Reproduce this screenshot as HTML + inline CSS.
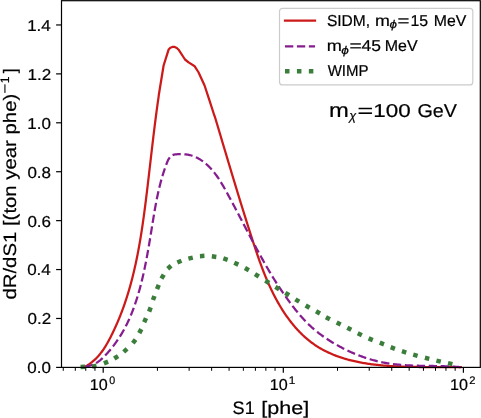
<!DOCTYPE html>
<html><head><meta charset="utf-8"><style>
html,body{margin:0;padding:0;background:#fff;}
svg{display:block;will-change:transform;}
text{font-family:"Liberation Sans",sans-serif;fill:#000;stroke:#000;stroke-width:0.2px;text-rendering:geometricPrecision;}
</style></head><body>
<svg width="481" height="418" viewBox="0 0 481 418">
<rect width="481" height="418" fill="#fff"/>
<g fill="none" stroke-linejoin="round">
<path d="M85.08,366.55 L86.16,365.97 L87.22,365.37 L88.25,364.74 L89.25,364.09 L90.23,363.41 L91.19,362.71 L92.13,361.98 L93.04,361.23 L93.93,360.47 L94.80,359.67 L95.65,358.86 L96.48,358.03 L97.29,357.18 L98.09,356.32 L98.86,355.43 L99.62,354.53 L100.36,353.61 L101.08,352.68 L101.79,351.74 L102.49,350.78 L103.16,349.81 L103.83,348.83 L104.48,347.83 L105.12,346.83 L105.75,345.81 L106.36,344.79 L106.97,343.76 L107.56,342.72 L108.14,341.68 L108.72,340.63 L109.28,339.57 L109.84,338.51 L110.39,337.45 L110.93,336.39 L111.47,335.32 L112.00,334.25 L112.52,333.18 L113.04,332.11 L113.55,331.04 L114.06,329.96 L114.56,328.89 L115.06,327.81 L115.55,326.74 L116.03,325.66 L116.51,324.58 L116.99,323.50 L117.46,322.41 L117.92,321.33 L118.38,320.25 L118.83,319.16 L119.28,318.07 L119.72,316.98 L120.16,315.89 L120.59,314.80 L121.02,313.71 L121.44,312.61 L121.86,311.51 L122.27,310.42 L122.68,309.32 L123.08,308.22 L123.48,307.11 L123.87,306.01 L124.26,304.90 L124.64,303.80 L125.02,302.69 L125.40,301.58 L125.77,300.47 L126.14,299.35 L126.50,298.24 L126.86,297.12 L127.21,296.00 L127.56,294.88 L127.91,293.76 L128.25,292.64 L128.59,291.51 L128.92,290.39 L129.25,289.26 L129.58,288.13 L129.90,287.00 L130.22,285.87 L130.53,284.74 L130.84,283.60 L131.15,282.47 L131.45,281.33 L131.75,280.19 L132.05,279.06 L132.34,277.91 L132.63,276.77 L132.91,275.63 L133.19,274.49 L133.47,273.34 L133.75,272.19 L134.02,271.05 L134.29,269.90 L134.55,268.75 L134.81,267.60 L135.07,266.44 L135.33,265.29 L135.58,264.14 L135.83,262.98 L136.08,261.83 L136.32,260.67 L136.56,259.51 L136.80,258.35 L137.04,257.19 L137.27,256.03 L137.50,254.87 L137.72,253.71 L137.95,252.54 L138.17,251.38 L138.39,250.21 L138.61,249.05 L138.82,247.88 L139.03,246.71 L139.24,245.55 L139.45,244.38 L139.65,243.21 L139.85,242.04 L140.05,240.87 L140.25,239.70 L140.45,238.52 L140.64,237.35 L140.83,236.18 L141.02,235.00 L141.21,233.83 L141.39,232.65 L141.58,231.48 L141.76,230.30 L141.94,229.13 L142.12,227.95 L142.29,226.77 L142.47,225.60 L142.64,224.42 L142.81,223.24 L142.98,222.06 L143.15,220.88 L143.31,219.70 L143.48,218.52 L143.64,217.34 L143.81,216.16 L143.97,214.98 L144.13,213.80 L144.28,212.62 L144.44,211.44 L144.60,210.26 L144.75,209.08 L144.91,207.90 L145.06,206.72 L145.21,205.53 L145.36,204.35 L145.51,203.17 L145.66,201.99 L145.81,200.81 L145.96,199.63 L146.10,198.44 L146.25,197.26 L146.39,196.08 L146.54,194.90 L146.68,193.72 L146.83,192.54 L146.97,191.35 L147.11,190.17 L147.25,188.99 L147.40,187.81 L147.54,186.63 L147.68,185.45 L147.82,184.27 L147.96,183.09 L148.10,181.91 L148.23,180.73 L148.37,179.55 L148.51,178.37 L148.65,177.19 L148.79,176.01 L148.92,174.83 L149.06,173.65 L149.20,172.47 L149.33,171.29 L149.47,170.11 L149.61,168.93 L149.74,167.75 L149.88,166.58 L150.02,165.40 L150.15,164.22 L150.29,163.04 L150.42,161.86 L150.56,160.69 L150.70,159.51 L150.83,158.33 L150.97,157.15 L151.10,155.98 L151.24,154.80 L151.38,153.62 L151.51,152.44 L151.65,151.27 L151.79,150.09 L151.93,148.92 L152.06,147.74 L152.20,146.56 L152.34,145.39 L152.48,144.21 L152.62,143.04 L152.76,141.86 L152.89,140.69 L153.03,139.51 L153.18,138.34 L153.32,137.16 L153.46,135.99 L153.60,134.82 L153.74,133.64 L153.88,132.47 L154.03,131.30 L154.17,130.12 L154.32,128.95 L154.46,127.78 L154.61,126.61 L154.75,125.43 L154.90,124.26 L155.05,123.09 L155.20,121.92 L155.35,120.75 L155.50,119.58 L155.65,118.41 L155.80,117.24 L155.95,116.07 L156.10,114.90 L156.26,113.73 L156.41,112.56 L156.57,111.39 L156.73,110.22 L156.88,109.05 L157.04,107.88 L157.20,106.71 L157.36,105.55 L157.53,104.38 L157.69,103.21 L157.85,102.04 L158.02,100.88 L158.19,99.71 L158.35,98.54 L158.52,97.38 L158.69,96.21 L158.73,95.50 L160.10,87.00 L161.98,75.50 L163.60,65.50 L168.60,49.60 L170.40,47.70 L172.30,46.95 L174.70,46.95 L176.80,48.00 L178.60,49.70 L185.00,59.50 L188.60,62.40 L194.70,66.30 L198.50,72.26 L204.57,85.50 L209.30,99.80 L214.33,115.50 L214.91,116.89 L215.25,118.02 L215.59,119.14 L215.93,120.26 L216.26,121.39 L216.60,122.52 L216.94,123.64 L217.27,124.77 L217.61,125.89 L217.94,127.02 L218.28,128.15 L218.62,129.28 L218.95,130.40 L219.29,131.53 L219.62,132.66 L219.96,133.79 L220.30,134.92 L220.63,136.05 L220.97,137.18 L221.31,138.31 L221.64,139.44 L221.98,140.57 L222.32,141.70 L222.65,142.83 L222.99,143.96 L223.33,145.10 L223.67,146.23 L224.00,147.36 L224.34,148.49 L224.68,149.63 L225.02,150.76 L225.36,151.89 L225.69,153.02 L226.03,154.16 L226.37,155.29 L226.71,156.43 L227.05,157.56 L227.39,158.69 L227.73,159.83 L228.07,160.96 L228.41,162.10 L228.75,163.23 L229.09,164.37 L229.43,165.50 L229.77,166.64 L230.11,167.77 L230.45,168.91 L230.79,170.04 L231.13,171.18 L231.47,172.32 L231.81,173.45 L232.16,174.59 L232.50,175.72 L232.84,176.86 L233.18,177.99 L233.53,179.13 L233.87,180.27 L234.21,181.40 L234.56,182.54 L234.90,183.67 L235.25,184.81 L235.59,185.94 L235.94,187.08 L236.28,188.22 L236.63,189.35 L236.97,190.49 L237.32,191.62 L237.66,192.76 L238.01,193.89 L238.36,195.03 L238.71,196.16 L239.05,197.30 L239.40,198.43 L239.75,199.57 L240.10,200.70 L240.45,201.84 L240.80,202.97 L241.15,204.11 L241.50,205.24 L241.85,206.37 L242.20,207.51 L242.55,208.64 L242.90,209.77 L243.26,210.91 L243.61,212.04 L243.96,213.17 L244.31,214.31 L244.67,215.44 L245.02,216.57 L245.38,217.70 L245.73,218.83 L246.09,219.96 L246.44,221.09 L246.80,222.23 L247.16,223.36 L247.51,224.49 L247.87,225.62 L248.23,226.74 L248.59,227.87 L248.95,229.00 L249.31,230.13 L249.67,231.26 L250.03,232.39 L250.39,233.51 L250.75,234.64 L251.11,235.77 L251.48,236.89 L251.84,238.02 L252.20,239.15 L252.57,240.27 L252.93,241.40 L253.30,242.52 L253.66,243.64 L254.03,244.77 L254.40,245.89 L254.77,247.01 L255.14,248.13 L255.51,249.25 L255.89,250.37 L256.26,251.49 L256.64,252.61 L257.02,253.73 L257.40,254.84 L257.79,255.96 L258.18,257.08 L258.56,258.19 L258.96,259.30 L259.35,260.41 L259.75,261.53 L260.15,262.64 L260.55,263.74 L260.96,264.85 L261.37,265.96 L261.78,267.06 L262.20,268.17 L262.62,269.27 L263.04,270.37 L263.47,271.47 L263.90,272.57 L264.33,273.67 L264.77,274.77 L265.22,275.86 L265.67,276.95 L266.12,278.04 L266.58,279.13 L267.04,280.22 L267.51,281.31 L267.98,282.39 L268.46,283.48 L268.94,284.56 L269.43,285.64 L269.92,286.72 L270.42,287.80 L270.93,288.87 L271.44,289.94 L271.96,291.01 L272.48,292.08 L273.01,293.15 L273.54,294.21 L274.09,295.28 L274.63,296.34 L275.19,297.39 L275.75,298.45 L276.32,299.50 L276.89,300.55 L277.47,301.59 L278.06,302.63 L278.65,303.67 L279.25,304.70 L279.86,305.73 L280.47,306.76 L281.10,307.78 L281.72,308.80 L282.36,309.81 L283.00,310.82 L283.65,311.82 L284.31,312.81 L284.97,313.80 L285.64,314.79 L286.32,315.77 L287.01,316.74 L287.70,317.71 L288.40,318.67 L289.11,319.63 L289.82,320.57 L290.55,321.52 L291.28,322.45 L292.02,323.38 L292.77,324.30 L293.52,325.21 L294.28,326.11 L295.05,327.01 L295.83,327.90 L296.62,328.78 L297.41,329.65 L298.21,330.51 L299.03,331.37 L299.84,332.21 L300.67,333.05 L301.51,333.88 L302.35,334.70 L303.20,335.50 L304.07,336.30 L304.94,337.09 L305.81,337.87 L306.70,338.64 L307.60,339.40 L308.50,340.14 L309.42,340.88 L310.34,341.60 L311.27,342.32 L312.21,343.02 L313.16,343.71 L314.12,344.39 L315.08,345.06 L316.06,345.72 L317.05,346.36 L318.04,346.99 L319.05,347.61 L320.06,348.22 L321.08,348.81 L322.11,349.39 L323.16,349.96 L324.20,350.51 L325.26,351.05 L326.33,351.58 L327.40,352.10 L328.48,352.61 L329.56,353.10 L330.66,353.59 L331.76,354.06 L332.86,354.52 L333.97,354.96 L335.08,355.40 L336.20,355.83 L337.32,356.24 L338.45,356.64 L339.58,357.04 L340.71,357.42 L341.85,357.79 L342.98,358.15 L344.12,358.50 L345.27,358.84 L346.41,359.17 L347.55,359.49 L348.70,359.80 L349.84,360.10 L350.99,360.39 L352.14,360.68 L353.28,360.95 L354.43,361.21 L355.58,361.47 L356.73,361.72 L357.88,361.96 L359.04,362.19 L360.19,362.41 L361.34,362.63 L362.50,362.83 L363.66,363.04 L364.82,363.23 L365.98,363.42 L367.14,363.60 L368.30,363.77 L369.47,363.94 L370.64,364.11 L371.80,364.26 L372.97,364.41 L374.15,364.56 L375.32,364.70 L376.50,364.84 L377.67,364.97 L378.85,365.09 L380.03,365.21 L381.21,365.32 L382.39,365.43 L383.57,365.54 L384.76,365.64 L385.94,365.74 L387.13,365.83 L388.32,365.92 L389.50,366.00 L390.69,366.08 L391.88,366.15 L393.07,366.23 L394.27,366.29 L395.46,366.36 L396.65,366.42 L397.84,366.47 L399.04,366.53 L400.23,366.58 L401.43,366.62 L402.62,366.67 L403.82,366.71 L405.02,366.75 L406.21,366.78 L407.41,366.81 L408.61,366.84 L409.80,366.87 L411.00,366.90 L412.20,366.92 L413.40,366.94 L414.59,366.96 L415.79,366.98 L416.99,366.99 L418.18,367.00 L419.38,367.02 L420.58,367.03 L421.77,367.03 L422.97,367.04 L424.16,367.05 L425.36,367.05 L426.55,367.06 L427.75,367.06 L428.94,367.06 L430.13,367.06 L431.32,367.06 L432.51,367.06 L433.70,367.06 L434.89,367.06 L436.08,367.06 L437.27,367.06 L438.45,367.06 L439.64,367.06 L440.82,367.06 L442.01,367.06 L443.19,367.06 L444.37,367.06 L445.55,367.06 L446.73,367.06 L447.90,367.06 L449.08,367.07 L450.25,367.07 L451.42,367.08 L452.59,367.08 L453.76,367.09 L454.93,367.10 L456.10,367.11 L457.26,367.13 L458.42,367.14 L459.58,367.16 L460.74,367.18 L461.90,367.20" stroke="#cc1a1a" stroke-width="2.25" stroke-linecap="butt"/>
<path d="M85.88,366.16 L86.88,366.08 L87.86,365.97 L88.81,365.81 L89.74,365.62 L90.64,365.39 L91.52,365.13 L92.38,364.83 L93.22,364.50 L94.05,364.14 L94.85,363.76 L95.63,363.34 L96.40,362.90 L97.15,362.43 L97.89,361.94 L98.61,361.42 L99.32,360.89 L100.02,360.34 L100.71,359.77 L101.38,359.18 L102.04,358.58 L102.70,357.96 L103.35,357.34 L103.99,356.70 L104.62,356.05 L105.25,355.40 L105.88,354.74 L106.50,354.07 L107.11,353.40 L107.72,352.72 L108.33,352.04 L108.93,351.35 L109.53,350.65 L110.12,349.95 L110.71,349.25 L111.29,348.54 L111.86,347.82 L112.43,347.11 L113.00,346.38 L113.56,345.66 L114.12,344.93 L114.66,344.19 L115.21,343.46 L115.74,342.71 L116.28,341.97 L116.80,341.22 L117.32,340.47 L117.84,339.72 L118.34,338.96 L118.84,338.20 L119.34,337.44 L119.83,336.68 L120.31,335.91 L120.79,335.15 L121.26,334.38 L121.72,333.61 L122.18,332.84 L122.63,332.06 L123.07,331.29 L123.51,330.51 L123.94,329.73 L124.37,328.95 L124.79,328.17 L125.20,327.38 L125.61,326.59 L126.01,325.81 L126.41,325.02 L126.80,324.22 L127.19,323.43 L127.57,322.63 L127.95,321.84 L128.32,321.04 L128.69,320.24 L129.05,319.43 L129.41,318.63 L129.77,317.82 L130.12,317.01 L130.46,316.20 L130.80,315.39 L131.14,314.58 L131.47,313.76 L131.80,312.94 L132.12,312.12 L132.44,311.30 L132.76,310.48 L133.07,309.65 L133.38,308.83 L133.69,308.00 L133.99,307.17 L134.29,306.33 L134.58,305.50 L134.87,304.66 L135.16,303.82 L135.45,302.98 L135.73,302.14 L136.01,301.30 L136.29,300.46 L136.56,299.61 L136.83,298.76 L137.10,297.91 L137.36,297.06 L137.62,296.21 L137.88,295.35 L138.14,294.50 L138.39,293.64 L138.64,292.78 L138.89,291.92 L139.13,291.06 L139.37,290.19 L139.61,289.33 L139.85,288.46 L140.08,287.60 L140.32,286.73 L140.54,285.86 L140.77,284.99 L141.00,284.12 L141.22,283.24 L141.44,282.37 L141.65,281.49 L141.87,280.62 L142.08,279.74 L142.29,278.86 L142.50,277.98 L142.70,277.10 L142.91,276.22 L143.11,275.34 L143.31,274.45 L143.51,273.57 L143.70,272.69 L143.90,271.80 L144.09,270.91 L144.28,270.03 L144.47,269.14 L144.66,268.25 L144.84,267.36 L145.02,266.47 L145.20,265.58 L145.38,264.69 L145.56,263.79 L145.74,262.90 L145.91,262.01 L146.09,261.11 L146.26,260.22 L146.43,259.32 L146.60,258.43 L146.77,257.53 L146.94,256.64 L147.10,255.74 L147.27,254.84 L147.43,253.94 L147.59,253.05 L147.75,252.15 L147.91,251.25 L148.07,250.35 L148.23,249.45 L148.39,248.55 L148.54,247.66 L148.70,246.76 L148.85,245.86 L149.01,244.96 L149.16,244.06 L149.31,243.16 L149.46,242.26 L149.61,241.36 L149.76,240.46 L149.91,239.56 L150.06,238.66 L150.21,237.76 L150.35,236.86 L150.50,235.97 L150.65,235.07 L150.80,234.17 L150.94,233.27 L151.09,232.37 L151.23,231.48 L151.38,230.58 L151.52,229.68 L151.67,228.79 L151.81,227.89 L151.96,226.99 L152.10,226.10 L152.25,225.20 L152.39,224.31 L152.53,223.42 L152.68,222.52 L152.82,221.63 L152.97,220.74 L153.11,219.85 L153.26,218.96 L153.41,218.07 L153.55,217.18 L153.70,216.29 L153.85,215.40 L154.00,214.51 L154.15,213.62 L154.30,212.73 L154.45,211.85 L154.60,210.96 L154.76,210.07 L154.91,209.19 L155.07,208.30 L155.23,207.42 L155.38,206.53 L155.55,205.65 L155.71,204.77 L155.87,203.88 L156.04,203.00 L156.21,202.12 L156.38,201.24 L156.55,200.35 L156.72,199.47 L156.90,198.59 L157.08,197.71 L157.26,196.83 L157.44,195.95 L157.63,195.07 L157.82,194.19 L158.01,193.31 L158.20,192.43 L158.40,191.55 L158.60,190.67 L158.80,189.79 L159.01,188.92 L159.22,188.04 L159.43,187.16 L159.64,186.28 L159.86,185.40 L160.09,184.53 L160.31,183.65 L160.54,182.77 L160.77,181.90 L161.01,181.02 L161.25,180.14 L161.50,179.27 L161.75,178.39 L162.00,177.51 L162.26,176.64 L162.52,175.76 L162.78,174.88 L163.06,174.01 L163.33,173.13 L163.61,172.26 L163.89,171.38 L164.18,170.50 L164.48,169.63 L164.78,168.75 L165.08,167.88 L165.39,167.00 L165.70,166.12 L166.02,165.25 L166.34,164.37 L166.68,163.50 L167.01,162.62 L167.36,161.76 L167.73,160.92 L168.12,160.10 L168.53,159.32 L168.98,158.57 L169.45,157.86 L169.97,157.20 L170.52,156.60 L171.12,156.07 L171.77,155.60 L172.47,155.20 L173.23,154.89 L174.04,154.65 L174.90,154.48 L175.79,154.36 L176.71,154.29 L177.65,154.24 L178.60,154.23 L179.56,154.23 L180.52,154.23 L181.47,154.23 L182.41,154.23 L183.34,154.24 L184.27,154.27 L185.18,154.33 L186.09,154.41 L186.99,154.53 L187.88,154.67 L188.77,154.83 L189.65,155.03 L190.51,155.24 L191.38,155.48 L192.23,155.75 L193.07,156.04 L193.91,156.35 L194.73,156.69 L195.55,157.04 L196.36,157.42 L197.16,157.81 L197.96,158.23 L198.74,158.66 L199.51,159.11 L200.28,159.58 L201.03,160.07 L201.78,160.57 L202.52,161.09 L203.25,161.63 L203.97,162.18 L204.67,162.74 L205.37,163.31 L206.06,163.90 L206.74,164.50 L207.41,165.11 L208.07,165.73 L208.72,166.37 L209.36,167.01 L209.99,167.66 L210.61,168.31 L211.22,168.98 L211.82,169.65 L212.41,170.33 L212.99,171.02 L213.57,171.71 L214.13,172.41 L214.68,173.12 L215.23,173.83 L215.77,174.55 L216.30,175.28 L216.83,176.01 L217.34,176.74 L217.85,177.48 L218.36,178.23 L218.86,178.98 L219.35,179.73 L219.83,180.49 L220.32,181.25 L220.79,182.02 L221.26,182.79 L221.73,183.56 L222.19,184.34 L222.65,185.12 L223.11,185.90 L223.56,186.68 L224.01,187.46 L224.45,188.25 L224.90,189.04 L225.34,189.83 L225.78,190.62 L226.22,191.41 L226.65,192.20 L227.09,193.00 L227.52,193.79 L227.96,194.58 L228.39,195.38 L228.82,196.17 L229.25,196.97 L229.68,197.76 L230.11,198.56 L230.54,199.35 L230.97,200.15 L231.40,200.94 L231.82,201.74 L232.25,202.53 L232.68,203.33 L233.10,204.13 L233.53,204.93 L233.95,205.72 L234.37,206.52 L234.80,207.32 L235.22,208.12 L235.64,208.91 L236.06,209.71 L236.48,210.51 L236.91,211.31 L237.33,212.11 L237.75,212.91 L238.17,213.71 L238.59,214.51 L239.01,215.31 L239.43,216.11 L239.85,216.91 L240.26,217.71 L240.68,218.51 L241.10,219.31 L241.52,220.11 L241.94,220.91 L242.36,221.71 L242.78,222.51 L243.20,223.32 L243.62,224.12 L244.03,224.92 L244.45,225.72 L244.87,226.52 L245.29,227.32 L245.71,228.13 L246.13,228.93 L246.55,229.73 L246.97,230.53 L247.39,231.33 L247.81,232.14 L248.24,232.94 L248.66,233.74 L249.08,234.54 L249.50,235.35 L249.93,236.15 L250.35,236.95 L250.77,237.76 L251.20,238.56 L251.62,239.36 L252.05,240.16 L252.47,240.97 L252.90,241.77 L253.33,242.57 L253.76,243.38 L254.19,244.18 L254.62,244.98 L255.05,245.78 L255.48,246.59 L255.91,247.39 L256.34,248.19 L256.78,249.00 L257.21,249.80 L257.65,250.60 L258.08,251.40 L258.52,252.21 L258.96,253.01 L259.40,253.81 L259.83,254.61 L260.27,255.41 L260.72,256.21 L261.16,257.00 L261.60,257.80 L262.04,258.60 L262.48,259.39 L262.93,260.18 L263.37,260.98 L263.82,261.77 L264.26,262.55 L264.71,263.34 L265.15,264.13 L265.60,264.91 L266.05,265.69 L266.50,266.47 L266.94,267.24 L267.39,268.02 L267.84,268.79 L268.29,269.55 L268.74,270.32 L269.19,271.08 L269.63,271.84 L270.08,272.60 L270.53,273.35 L270.98,274.10 L271.43,274.85 L271.88,275.59 L272.33,276.33 L272.78,277.07 L273.23,277.80 L273.68,278.53 L274.13,279.25 L274.58,279.98 L275.03,280.69 L275.48,281.40 L275.92,282.11 L276.37,282.81 L276.82,283.51 L277.27,284.21 L277.72,284.90 L278.17,285.59 L278.62,286.27 L279.07,286.95 L279.52,287.63 L279.97,288.31 L280.42,288.98 L280.88,289.66 L281.34,290.33 L281.79,291.00 L282.25,291.67 L282.72,292.35 L283.18,293.02 L283.65,293.69 L284.12,294.36 L284.59,295.04 L285.06,295.71 L285.54,296.39 L286.02,297.07 L286.51,297.75 L287.00,298.43 L287.49,299.12 L287.98,299.80 L288.48,300.49 L288.98,301.18 L289.49,301.87 L290.00,302.56 L290.51,303.26 L291.03,303.95 L291.55,304.65 L292.08,305.34 L292.60,306.04 L293.14,306.73 L293.67,307.43 L294.21,308.12 L294.76,308.81 L295.30,309.51 L295.86,310.20 L296.41,310.89 L296.97,311.58 L297.54,312.27 L298.11,312.95 L298.68,313.64 L299.25,314.32 L299.84,315.00 L300.42,315.68 L301.01,316.35 L301.60,317.03 L302.20,317.70 L302.81,318.36 L303.41,319.03 L304.02,319.69 L304.64,320.34 L305.26,320.99 L305.89,321.64 L306.52,322.29 L307.15,322.93 L307.79,323.56 L308.43,324.19 L309.08,324.82 L309.74,325.44 L310.39,326.05 L311.06,326.66 L311.72,327.27 L312.40,327.87 L313.07,328.46 L313.75,329.05 L314.44,329.63 L315.13,330.21 L315.82,330.79 L316.52,331.36 L317.23,331.92 L317.93,332.48 L318.64,333.03 L319.36,333.58 L320.08,334.13 L320.80,334.67 L321.53,335.20 L322.26,335.73 L322.99,336.26 L323.73,336.78 L324.47,337.29 L325.21,337.81 L325.96,338.31 L326.71,338.82 L327.47,339.31 L328.22,339.81 L328.98,340.30 L329.75,340.78 L330.52,341.26 L331.29,341.74 L332.06,342.21 L332.83,342.68 L333.61,343.14 L334.39,343.60 L335.18,344.05 L335.96,344.50 L336.75,344.95 L337.54,345.39 L338.34,345.83 L339.13,346.27 L339.93,346.70 L340.73,347.12 L341.54,347.54 L342.34,347.96 L343.15,348.38 L343.96,348.79 L344.77,349.19 L345.58,349.59 L346.40,349.99 L347.22,350.38 L348.04,350.77 L348.86,351.16 L349.68,351.54 L350.51,351.91 L351.33,352.29 L352.16,352.65 L353.00,353.01 L353.83,353.37 L354.66,353.72 L355.50,354.07 L356.34,354.42 L357.18,354.75 L358.02,355.09 L358.87,355.42 L359.71,355.74 L360.56,356.06 L361.41,356.37 L362.26,356.68 L363.12,356.99 L363.97,357.29 L364.83,357.58 L365.69,357.87 L366.55,358.15 L367.41,358.43 L368.27,358.70 L369.14,358.97 L370.00,359.23 L370.87,359.49 L371.74,359.74 L372.61,359.99 L373.48,360.23 L374.36,360.46 L375.23,360.69 L376.11,360.91 L376.99,361.13 L377.86,361.34 L378.75,361.55 L379.63,361.75 L380.51,361.94 L381.40,362.13 L382.28,362.31 L383.17,362.49 L384.06,362.66 L384.95,362.82 L385.84,362.98 L386.73,363.13 L387.63,363.28 L388.52,363.42 L389.42,363.55 L390.31,363.68 L391.21,363.81 L392.11,363.93 L393.01,364.04 L393.91,364.15 L394.81,364.26 L395.72,364.36 L396.62,364.46 L397.53,364.55 L398.43,364.63 L399.34,364.72 L400.24,364.80 L401.15,364.87 L402.06,364.95 L402.97,365.01 L403.88,365.08 L404.79,365.14 L405.70,365.20 L406.61,365.25 L407.52,365.30 L408.43,365.35 L409.34,365.40 L410.26,365.44 L411.17,365.48 L412.08,365.52 L413.00,365.56 L413.91,365.59 L414.83,365.62 L415.74,365.65 L416.65,365.68 L417.57,365.71 L418.48,365.73 L419.40,365.75 L420.31,365.77 L421.23,365.79 L422.15,365.81 L423.06,365.83 L423.98,365.85 L424.89,365.86 L425.80,365.88 L426.72,365.89 L427.63,365.91 L428.55,365.92 L429.46,365.94 L430.38,365.95 L431.29,365.96 L432.20,365.98 L433.11,365.99 L434.03,366.01 L434.94,366.02 L435.85,366.04 L436.76,366.05 L437.67,366.07 L438.58,366.09 L439.49,366.11 L440.40,366.13 L441.31,366.15 L442.21,366.17 L443.12,366.20 L444.03,366.22 L444.93,366.25 L445.84,366.28 L446.74,366.31 L447.64,366.34 L448.54,366.38 L449.44,366.42 L450.34,366.46 L451.24,366.50 L452.14,366.55 L453.04,366.60 L453.93,366.65 L454.83,366.71 L455.72,366.77 L456.61,366.83 L457.50,366.89 L458.39,366.96 L459.28,367.03 L460.17,367.11 L461.06,367.19 L461.94,367.28" stroke="#861d8f" stroke-width="2.25" stroke-dasharray="8.3 3.63" stroke-dashoffset="1.2" stroke-linecap="butt"/>
</g>
<g fill="#3b7d3b"><rect x="80.55" y="364.55" width="4.50" height="4.50" transform="rotate(-3.0 82.80 366.80)"/><rect x="92.05" y="363.95" width="4.50" height="4.50" transform="rotate(-10.5 94.30 366.20)"/><rect x="103.75" y="360.25" width="4.50" height="4.50" transform="rotate(-22.1 106.00 362.50)"/><rect x="113.95" y="355.05" width="4.50" height="4.50" transform="rotate(-32.0 116.20 357.30)"/><rect x="123.15" y="348.15" width="4.50" height="4.50" transform="rotate(-41.6 125.40 350.40)"/><rect x="131.95" y="339.05" width="4.50" height="4.50" transform="rotate(-52.3 134.20 341.30)"/><rect x="138.05" y="328.85" width="4.50" height="4.50" transform="rotate(-62.7 140.30 331.10)"/><rect x="142.85" y="317.95" width="4.50" height="4.50" transform="rotate(-66.0 145.10 320.20)"/><rect x="147.65" y="307.25" width="4.50" height="4.50" transform="rotate(-68.8 149.90 309.50)"/><rect x="151.45" y="295.75" width="4.50" height="4.50" transform="rotate(-70.4 153.70 298.00)"/><rect x="155.65" y="284.75" width="4.50" height="4.50" transform="rotate(-67.4 157.90 287.00)"/><rect x="160.35" y="274.35" width="4.50" height="4.50" transform="rotate(-59.7 162.60 276.60)"/><rect x="167.15" y="265.05" width="4.50" height="4.50" transform="rotate(-41.8 169.40 267.30)"/><rect x="177.15" y="259.35" width="4.50" height="4.50" transform="rotate(-23.5 179.40 261.60)"/><rect x="188.35" y="255.85" width="4.50" height="4.50" transform="rotate(-13.8 190.60 258.10)"/><rect x="199.95" y="253.75" width="4.50" height="4.50" transform="rotate(-3.7 202.20 256.00)"/><rect x="211.85" y="254.35" width="4.50" height="4.50" transform="rotate(7.6 214.10 256.60)"/><rect x="223.25" y="256.85" width="4.50" height="4.50" transform="rotate(17.7 225.50 259.10)"/><rect x="234.05" y="261.45" width="4.50" height="4.50" transform="rotate(25.0 236.30 263.70)"/><rect x="244.65" y="266.85" width="4.50" height="4.50" transform="rotate(29.4 246.90 269.10)"/><rect x="254.65" y="273.05" width="4.50" height="4.50" transform="rotate(32.0 256.90 275.30)"/><rect x="264.95" y="279.55" width="4.50" height="4.50" transform="rotate(32.1 267.20 281.80)"/><rect x="275.05" y="285.85" width="4.50" height="4.50" transform="rotate(31.6 277.30 288.10)"/><rect x="284.95" y="291.85" width="4.50" height="4.50" transform="rotate(31.8 287.20 294.10)"/><rect x="295.05" y="298.25" width="4.50" height="4.50" transform="rotate(31.5 297.30 300.50)"/><rect x="305.35" y="304.35" width="4.50" height="4.50" transform="rotate(29.9 307.60 306.60)"/><rect x="315.75" y="310.15" width="4.50" height="4.50" transform="rotate(29.7 318.00 312.40)"/><rect x="325.65" y="315.95" width="4.50" height="4.50" transform="rotate(28.0 327.90 318.20)"/><rect x="336.45" y="321.15" width="4.50" height="4.50" transform="rotate(26.4 338.70 323.40)"/><rect x="347.05" y="326.55" width="4.50" height="4.50" transform="rotate(27.3 349.30 328.80)"/><rect x="357.55" y="332.05" width="4.50" height="4.50" transform="rotate(26.1 359.80 334.30)"/><rect x="368.45" y="337.05" width="4.50" height="4.50" transform="rotate(22.6 370.70 339.30)"/><rect x="379.65" y="341.25" width="4.50" height="4.50" transform="rotate(21.5 381.90 343.50)"/><rect x="390.55" y="345.75" width="4.50" height="4.50" transform="rotate(20.7 392.80 348.00)"/><rect x="401.85" y="349.65" width="4.50" height="4.50" transform="rotate(17.9 404.10 351.90)"/><rect x="413.15" y="353.05" width="4.50" height="4.50" transform="rotate(15.5 415.40 355.30)"/><rect x="424.85" y="356.05" width="4.50" height="4.50" transform="rotate(14.0 427.10 358.30)"/><rect x="436.35" y="358.85" width="4.50" height="4.50" transform="rotate(12.9 438.60 361.10)"/><rect x="447.95" y="361.35" width="4.50" height="4.50" transform="rotate(12.2 450.20 363.60)"/></g>
<g stroke="#000" stroke-width="1.2"><line x1="56.10" y1="367.40" x2="61.50" y2="367.40"/><line x1="56.10" y1="318.48" x2="61.50" y2="318.48"/><line x1="56.10" y1="269.56" x2="61.50" y2="269.56"/><line x1="56.10" y1="220.64" x2="61.50" y2="220.64"/><line x1="56.10" y1="171.72" x2="61.50" y2="171.72"/><line x1="56.10" y1="122.80" x2="61.50" y2="122.80"/><line x1="56.10" y1="73.88" x2="61.50" y2="73.88"/><line x1="56.10" y1="24.96" x2="61.50" y2="24.96"/><line x1="103.20" y1="367.40" x2="103.20" y2="372.80"/><line x1="283.30" y1="367.40" x2="283.30" y2="372.80"/><line x1="463.40" y1="367.40" x2="463.40" y2="372.80"/></g>
<g stroke="#000" stroke-width="1.0"><line x1="63.25" y1="367.40" x2="63.25" y2="370.80"/><line x1="75.30" y1="367.40" x2="75.30" y2="370.80"/><line x1="85.75" y1="367.40" x2="85.75" y2="370.80"/><line x1="94.96" y1="367.40" x2="94.96" y2="370.80"/><line x1="157.42" y1="367.40" x2="157.42" y2="370.80"/><line x1="189.13" y1="367.40" x2="189.13" y2="370.80"/><line x1="211.63" y1="367.40" x2="211.63" y2="370.80"/><line x1="229.08" y1="367.40" x2="229.08" y2="370.80"/><line x1="243.35" y1="367.40" x2="243.35" y2="370.80"/><line x1="255.40" y1="367.40" x2="255.40" y2="370.80"/><line x1="265.85" y1="367.40" x2="265.85" y2="370.80"/><line x1="275.06" y1="367.40" x2="275.06" y2="370.80"/><line x1="337.52" y1="367.40" x2="337.52" y2="370.80"/><line x1="369.23" y1="367.40" x2="369.23" y2="370.80"/><line x1="391.73" y1="367.40" x2="391.73" y2="370.80"/><line x1="409.18" y1="367.40" x2="409.18" y2="370.80"/><line x1="423.45" y1="367.40" x2="423.45" y2="370.80"/><line x1="435.50" y1="367.40" x2="435.50" y2="370.80"/><line x1="445.95" y1="367.40" x2="445.95" y2="370.80"/><line x1="455.16" y1="367.40" x2="455.16" y2="370.80"/></g>
<rect x="61.5" y="0.7" width="418.8" height="366.7" fill="none" stroke="#000" stroke-width="1.2"/>
<rect x="279.5" y="8.3" width="193.3" height="76.6" rx="3" ry="3" fill="#fff" fill-opacity="0.8" stroke="#cccccc" stroke-width="1.2"/>
<line x1="285" y1="20.7" x2="315" y2="20.7" stroke="#cc1a1a" stroke-width="2.25" stroke-linecap="square"/>
<line x1="285" y1="46.4" x2="315" y2="46.4" stroke="#861d8f" stroke-width="2.25" stroke-dasharray="8.3 3.63"/>
<line x1="285" y1="71.2" x2="315" y2="71.2" stroke="#3b7d3b" stroke-width="4.5" stroke-dasharray="4.5 7.425"/>
<g><text transform="translate(27.34 373.33) scale(1.0757 1)" font-size="15.80">0.0</text><text transform="translate(27.53 324.41) scale(1.0757 1)" font-size="15.80">0.2</text><text transform="translate(27.17 275.49) scale(1.0757 1)" font-size="15.80">0.4</text><text transform="translate(27.42 226.57) scale(1.0757 1)" font-size="15.80">0.6</text><text transform="translate(27.41 177.65) scale(1.0757 1)" font-size="15.80">0.8</text><text transform="translate(27.34 128.73) scale(1.0757 1)" font-size="15.80">1.0</text><text transform="translate(27.53 79.81) scale(1.0757 1)" font-size="15.80">1.2</text><text transform="translate(27.17 30.89) scale(1.0757 1)" font-size="15.80">1.4</text><text transform="translate(89.77 389.80) scale(1.0220 1)" font-size="15.80">10</text><text transform="translate(109.18 384.20) scale(0.9612 1)" font-size="11.10">0</text><text transform="translate(269.87 389.80) scale(1.0220 1)" font-size="15.80">10</text><text transform="translate(288.80 384.20) scale(1.0657 1)" font-size="11.10">1</text><text transform="translate(449.97 389.80) scale(1.0220 1)" font-size="15.80">10</text><text transform="translate(469.24 384.20) scale(1.0085 1)" font-size="11.10">2</text><text transform="translate(232.58 413.90) scale(1.0039 1)" font-size="18.00">S1</text><text transform="translate(261.36 413.90) scale(1.1984 1)" font-size="18.00">[phe]</text><text transform="translate(15.90 299.55) rotate(-90) scale(1.1302 1)" font-size="18.00">dR/dS1 [(ton year phe)</text><text transform="translate(8.80 93.52) rotate(-90) scale(1.3555 1)" font-size="12.30">−</text><text transform="translate(8.80 83.14) rotate(-90) scale(0.9994 1)" font-size="12.30">1</text><text transform="translate(15.90 73.24) rotate(-90) scale(1.0064 1)" font-size="18.00">]</text><text transform="translate(326.94 25.80) scale(0.9832 1)" font-size="15.80">SIDM,</text><text transform="translate(375.02 25.80) scale(1.1291 1)" font-size="15.80">m</text><text transform="translate(389.57 28.40) scale(1.2093 1)" font-size="11.10" font-style="italic">ϕ</text><text transform="translate(397.61 25.80) scale(1.2897 1)" font-size="15.80">=</text><text transform="translate(410.39 25.80) scale(1.0059 1)" font-size="15.80">15</text><text transform="translate(433.70 25.80) scale(1.0025 1)" font-size="15.80">MeV</text><text transform="translate(326.80 50.90) scale(1.1472 1)" font-size="15.80">m</text><text transform="translate(341.36 53.50) scale(1.2276 1)" font-size="11.10" font-style="italic">ϕ</text><text transform="translate(349.57 50.90) scale(1.3288 1)" font-size="15.80">=</text><text transform="translate(361.60 50.90) scale(1.1059 1)" font-size="15.80">45</text><text transform="translate(384.69 50.90) scale(1.0122 1)" font-size="15.80">MeV</text><text transform="translate(327.63 76.40) scale(0.9501 1)" font-size="15.80">WIMP</text><text transform="translate(329.02 116.80) scale(1.1799 1)" font-size="20.20">m</text><text transform="translate(349.22 119.50) scale(0.9740 1)" font-size="13.00" font-style="italic">χ</text><text transform="translate(357.38 116.60) scale(1.4497 1)" font-size="18.60">=</text><text transform="translate(373.29 116.60) scale(1.2080 1)" font-size="18.60">100</text><text transform="translate(417.41 116.60) scale(1.0635 1)" font-size="18.60">GeV</text></g>
</svg>
</body></html>
